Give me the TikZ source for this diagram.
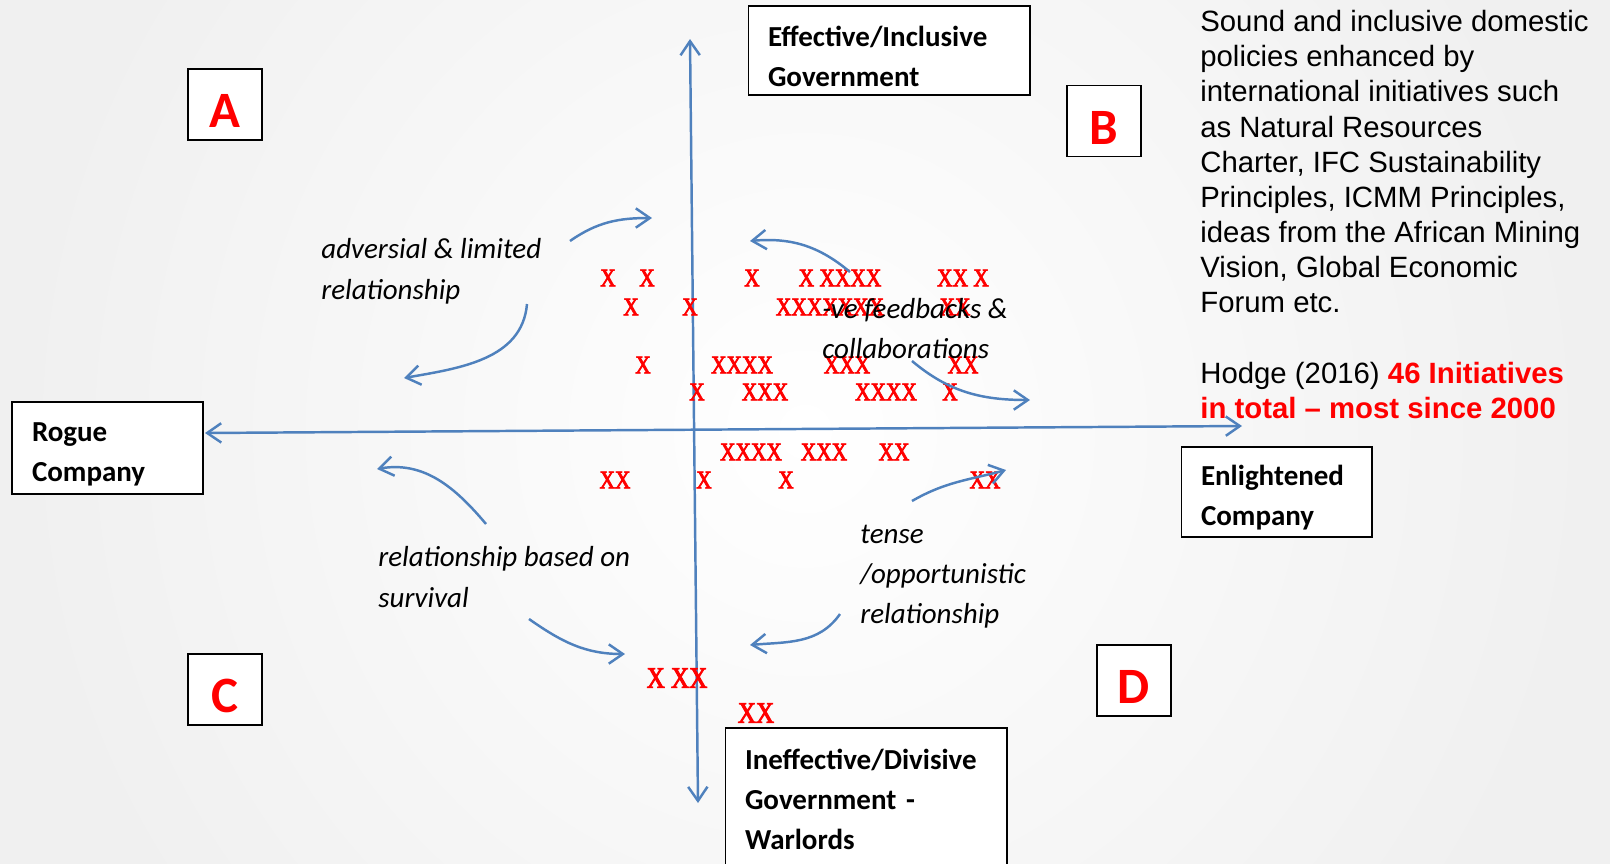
\documentclass[tikz,border=0pt]{standalone}
\usepackage{fontspec}
\setmainfont{Carlito}
\newfontfamily\arialfont{Liberation Sans}
\newfontfamily\xmarkfont[FakeStretch=0.84, FakeBold=3]{Liberation Serif}
\usepackage{tikz}
\usetikzlibrary{arrows.meta, positioning}

\definecolor{axisblue}{RGB}{79,129,189}

\tikzset{
	labelbox/.style={draw=black, fill=white, line width=0.6pt, align=left, inner xsep=0.4cm, inner ysep=0pt, font=\fontsize{16.5}{22.8}\selectfont\bfseries},
	lowtext/.style={execute at begin node=\rule{0pt}{18pt}},
	letterbox/.style={draw=black, fill=white, line width=0.6pt, minimum width=1.48cm, minimum height=1.42cm, inner sep=0pt, text height=26.7pt, text depth=0pt, text=red, font=\fontsize{29}{30}\selectfont\bfseries},
	note/.style={anchor=north west, inner sep=0pt, align=left, font=\fontsize{16.5}{22.8}\selectfont\itshape},
	xmark/.style={text=red, inner sep=0pt, font=\xmarkfont\fontsize{14.5}{15}\selectfont},
	bigxmark/.style={xmark, font=\xmarkfont\fontsize{17}{18}\selectfont},
	flow/.style={axisblue, line width=1.4pt, -{Straight Barb[length=8pt, width=11pt]}},
	axis/.style={axisblue, line width=1.4pt, {Straight Barb[length=8pt, width=11pt]}-{Straight Barb[length=8pt, width=11pt]}}
}

\begin{document}
\begin{tikzpicture}[x=0.02cm, y=-0.02cm]
	\useasboundingbox (0,0) rectangle (1610,863);
	\clip (0,0) rectangle (1610,863);
	\shade [inner color=white, outer color=black!6] (0,-400) rectangle (1610,1263);
	
	% the two axes
	\coordinate (gtop) at (690,39);
	\coordinate (gbot) at (698,803);
	\coordinate (cleft) at (205,433);
	\coordinate (cright) at (1242,426);
	\draw [axis] (gbot) -- (gtop);
	\draw [axis] (cleft) -- (cright);
	
	\node [labelbox, lowtext, text width=4.84cm, minimum height=1.78cm] (effgov) at (889,50.5) {Effective/Inclusive\\Government};
	\node [labelbox, lowtext, text width=3.02cm, minimum height=1.84cm] (rogue) at (107.5,448) {Rogue\\Company};
	\node [labelbox, lowtext, text width=3.02cm, minimum height=1.8cm] (enlight) at (1276.5,492) {Enlightened\\Company};
	\node [labelbox, text width=4.84cm, minimum height=2.86cm] (ineffgov) at (866,799.5) {Ineffective/Divisive\\Government -\\Warlords};
	
	\node [letterbox] (qa) at (225,104.5) {A};
	\node [letterbox] (qb) at (1104,121) {B};
	\node [letterbox] (qc) at (225,689.5) {C};
	\node [letterbox] (qd) at (1134,680.5) {D};
	
	% initiatives
	\foreach \px/\py/\marks [count=\i] in {608/278/X, 647/278/X, 752/278/X, 840/278/X XXXX, 963/278/XX X,
		631/307/X, 690/307/X, 830/307/XXXXXXX, 955/307/XX,
		643/365/X, 742/365/XXXX, 847/365/XXX, 963/365/XX,
		697/392/X, 765/392/XXX, 886/392/XXXX, 950/392/X,
		751/452/XXXX, 824/452/XXX, 894/452/XX,
		615/480/XX, 704/480/X, 786/480/X, 985/480/XX}
		\node [xmark] (mark\i) at (\px,\py) {\marks};
	\node [bigxmark] (lowmarka) at (677,678) {X XX};
	\node [bigxmark] (lowmarkb) at (756,713) {XX};
	
	\node [note] (adv) at (321,238.5) {adversial \& limited\\relationship};
	\node [note] (fb) at (822,298) {-ve feedbacks \&\\collaborations};
	\node [note] (surv) at (378,546.5) {relationship based on\\survival};
	\node [note] (tense) at (860,525) {tense\\/opportunistic\\relationship};
	
	% curved arrows round the quadrants
	\coordinate (aas) at (570,241); \coordinate (aae) at (652,218);
	\coordinate (abs) at (527,304); \coordinate (abe) at (404,378);
	\coordinate (bas) at (850,272); \coordinate (bae) at (750,241);
	\coordinate (bbs) at (912,361); \coordinate (bbe) at (1030,400);
	\coordinate (cas) at (486,524); \coordinate (cae) at (377,469);
	\coordinate (cbs) at (529,619); \coordinate (cbe) at (625,654);
	\coordinate (das) at (912,501); \coordinate (dae) at (1006,470);
	\coordinate (dbs) at (840,614); \coordinate (dbe) at (750,645);
	\draw [flow] (aas) to [out=35, in=180] (aae);
	\draw [flow] (abs) to [out=-95, in=10] (abe);
	\draw [flow] (bas) to [out=140, in=5] (bae);
	\draw [flow] (bbs) to [out=-40, in=180] (bbe);
	\draw [flow] (cas) to [out=130, in=10] (cae);
	\draw [flow] (cbs) to [out=-35, in=180] (cbe);
	\draw [flow] (das) to [out=30, in=195] (dae);
	\draw [flow] (dbs) to [out=-125, in=5] (dbe);
	
	\node [anchor=north west, inner sep=0pt, align=left, font=\arialfont\fontsize{16.7}{20}\selectfont] (policies) at (1200,10) {Sound and inclusive domestic\\policies enhanced by\\international initiatives such\\as Natural Resources\\Charter, IFC Sustainability\\Principles, ICMM Principles,\\ideas from the African Mining\\Vision, Global Economic\\Forum etc.\\[20pt]Hodge (2016) \textcolor{red}{\bfseries 46 Initiatives}\\\textcolor{red}{\bfseries in total – most since 2000}};
\end{tikzpicture}
\end{document}
